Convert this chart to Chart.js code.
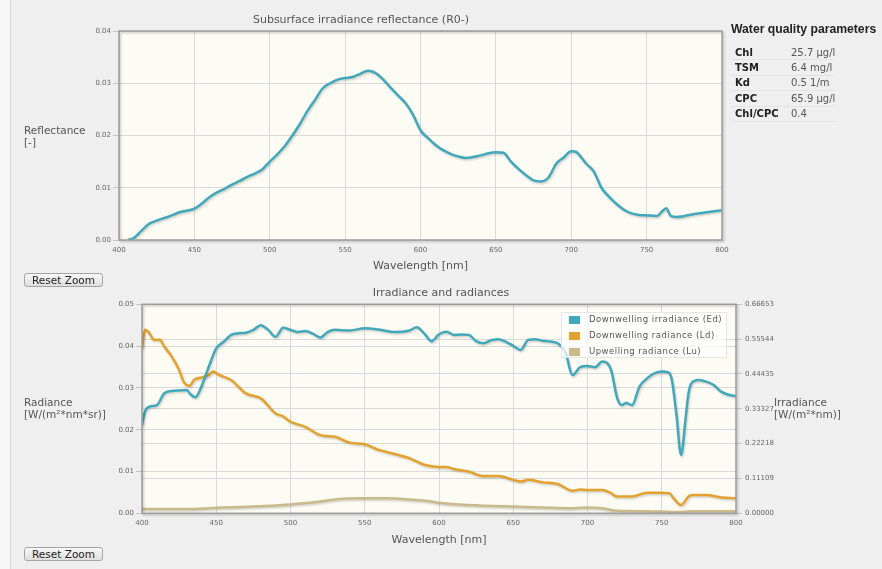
<!DOCTYPE html>
<html>
<head>
<meta charset="utf-8">
<script src="https://cdn.jsdelivr.net/npm/chart.js@4"></script>
<style>
  html, body { margin:0; padding:0; }
  body { width:882px; height:569px; background:#f6f6f6; font-family:'DejaVu Sans', sans-serif; position:relative; overflow:hidden; }
  #page { position:absolute; left:10px; top:0; width:872px; height:569px; background:#efefef; border-left:1px solid #dadada; }
  .abs { position:absolute; }
  .axtitle { position:absolute; font-size:10.5px; line-height:11.5px; color:#555; white-space:nowrap; }
  .btn { position:absolute; left:24px; width:79px; height:14px; box-sizing:border-box; padding:0; margin:0; font-family:'DejaVu Sans', sans-serif; font-size:10.5px; line-height:11px; text-align:center; color:#222;
         background:linear-gradient(#f8f8f8,#dedede); border:1px solid #a4a4a4; border-radius:3px; }
  #wq { position:absolute; left:731px; top:22px; }
  #wq h3 { margin:0; font-family:'Liberation Sans', Arial, sans-serif; font-size:12.2px; font-weight:bold; color:#222; }
  #wq table { border-collapse:collapse; margin-top:9px; }
  #wq td { font-size:10px; height:14.4px; padding:0 0 0 4px; border-bottom:1px solid #e3e3e3; color:#555; white-space:nowrap; }
  #wq td.k { font-weight:bold; color:#222; width:52px; }
  #wq td.v { width:41px; }
  #legend { position:absolute; left:561px; top:312px; width:166px; height:46px; background:rgba(255,255,255,0.72); border:1px solid #e6e6e6; box-sizing:border-box; }
  .li { position:absolute; left:7px; height:12px; font-size:8.5px; color:#555; letter-spacing:0.5px; white-space:nowrap; }
  .li span { position:absolute; left:0; top:2px; width:11px; height:8px; }
  .li b { font-weight:normal; position:absolute; left:20px; top:0; }
</style>
</head>
<body>
<div id="page"></div>

<canvas id="reflChart" class="abs" width="746" height="273" style="left:0;top:0"></canvas>
<canvas id="radChart" class="abs" width="882" height="267" style="left:0;top:280px"></canvas>

<div class="axtitle" style="left:24px;top:125px">Reflectance<br>[-]</div>
<div class="axtitle" style="left:24px;top:397px">Radiance<br>[W/(m²*nm*sr)]</div>
<div class="axtitle" style="left:774px;top:397px">Irradiance<br>[W/(m²*nm)]</div>

<div id="wq"><h3>Water quality parameters</h3><table id="wqTable"></table></div>
<div id="legend"></div>

<button class="btn" style="top:273px">Reset Zoom</button>
<button class="btn" style="top:547px">Reset Zoom</button>

<script>
// --- data ---
const paramNames  = ['Chl', 'TSM', 'Kd', 'CPC', 'Chl/CPC'];
const paramValues = ['25.7 µg/l', '6.4 mg/l', '0.5 1/m', '65.9 µg/l', '0.4'];

// subsurface irradiance reflectance R0- [-]
const reflWl  = [406,410,415,420,425,430,435,440,445,450,455,460,465,470,475,480,485,490,495,500,
                 505,510,515,520,525,530,535,540,545,550,555,560,565,570,575,580,585,590,595,600,
                 605,610,615,620,625,630,640,645,650,655,660,665,670,675,680,685,690,695,700,703,
                 705,710,715,720,725,730,735,740,745,750,757,760,763,766,770,780,790,800];
const reflVal = [0.0000,0.0004,0.0018,0.0031,0.0037,0.0042,0.0047,0.0053,0.0056,0.0060,0.0070,0.0082,0.0091,0.0098,0.0106,0.0113,0.0121,0.0127,0.0135,0.0150,
                 0.0164,0.0180,0.0200,0.0222,0.0247,0.0268,0.0290,0.0300,0.0307,0.0310,0.0312,0.0318,0.0324,0.0320,0.0308,0.0292,0.0277,0.0262,0.0240,0.0210,
                 0.0195,0.0182,0.0172,0.0165,0.0160,0.0157,0.0162,0.0166,0.0168,0.0167,0.0150,0.0136,0.0124,0.0114,0.0112,0.0120,0.0146,0.0158,0.0170,0.0169,
                 0.0164,0.0146,0.0131,0.0100,0.0083,0.0069,0.0058,0.0051,0.0048,0.0047,0.0046,0.0054,0.0061,0.0046,0.0044,0.0049,0.0053,0.0057];

// downwelling irradiance Ed [W/(m2*nm)] (right axis)
const edWl  = [400,402,405,410,415,420,425,430,433,436,440,445,450,455,460,465,470,475,480,485,490,495,500,505,510,515,520,525,530,540,
               550,560,570,580,585,590,595,600,605,610,615,620,625,630,635,640,645,650,655,660,665,670,675,680,685,690,695,700,705,710,
               713,716,720,723,726,730,735,740,745,750,755,757,760,763,766,768,770,775,780,785,790,795,800];
const edVal = [0.282,0.324,0.340,0.345,0.383,0.390,0.392,0.393,0.378,0.370,0.404,0.468,0.526,0.547,0.569,0.574,0.576,0.585,0.600,0.585,0.563,0.592,0.585,0.578,0.581,0.573,0.561,0.578,0.585,0.583,
               0.590,0.585,0.578,0.583,0.593,0.574,0.549,0.571,0.579,0.569,0.570,0.569,0.549,0.542,0.552,0.555,0.547,0.534,0.521,0.553,0.555,0.550,0.548,0.542,0.515,0.441,0.466,0.470,0.466,0.484,
               0.480,0.455,0.367,0.345,0.352,0.345,0.404,0.430,0.446,0.452,0.448,0.420,0.310,0.186,0.300,0.383,0.415,0.425,0.420,0.409,0.388,0.378,0.374];

// downwelling radiance Ld [W/(m2*nm*sr)]
const ldWl  = [400,402,405,408,412,415,420,425,428,432,435,440,445,448,452,460,470,480,490,495,500,510,520,530,540,550,560,570,580,590,
               600,605,610,620,630,640,650,655,660,670,680,690,695,700,710,715,720,730,740,750,755,758,763,768,770,780,790,800];
const ldVal = [0.0395,0.0439,0.0431,0.0415,0.0415,0.0399,0.0375,0.0343,0.0315,0.0305,0.0319,0.0325,0.0331,0.0339,0.0331,0.0319,0.0287,0.0275,0.0239,0.0232,0.0219,0.0207,0.0187,0.0183,0.0169,0.0165,0.0151,0.0142,0.0132,0.0116,
               0.0111,0.0111,0.0106,0.0100,0.0089,0.0089,0.0080,0.0076,0.0080,0.0074,0.0070,0.0054,0.0057,0.0056,0.0056,0.0050,0.0040,0.0040,0.0049,0.0049,0.0048,0.0036,0.0020,0.0040,0.0044,0.0044,0.0038,0.0036];

// upwelling radiance Lu [W/(m2*nm*sr)]
const luWl  = [400,430,450,480,500,520,535,550,565,580,595,600,620,650,670,690,700,710,720,740,760,770,800];
const luVal = [0.0010,0.0010,0.0013,0.0017,0.0021,0.0028,0.0035,0.0036,0.0036,0.0033,0.0028,0.0025,0.0020,0.0016,0.0014,0.0012,0.0014,0.0012,0.0006,0.0005,0.0003,0.0005,0.0005];

const radLabels = ['Downwelling irradiance (Ed)', 'Downwelling radiance (Ld)', 'Upwelling radiance (Lu)'];
const radColors = ['#40a8ba', '#e4a12d', '#c9b98b'];

const rightTicks = [0, 0.11109, 0.22218, 0.33327, 0.44435, 0.55544, 0.66653];

// --- helpers ---
function pts(xs, ys){ return xs.map((x,i)=>({x, y:ys[i]})); }
const tickFont = { family:'DejaVu Sans', size:7 };
const gridCol = '#dadada';

// cream plot background + framed border with a soft shadow
const plotFrame = {
  id:'plotFrame',
  beforeDraw(c){
    const a = c.chartArea, ctx = c.ctx;
    ctx.save(); ctx.fillStyle = '#fdfcf4'; ctx.fillRect(a.left, a.top, a.right-a.left, a.bottom-a.top); ctx.restore();
  },
  afterDraw(c){
    const a = c.chartArea, ctx = c.ctx;
    ctx.save();
    ctx.shadowColor = 'rgba(0,0,0,0.22)'; ctx.shadowOffsetX = 1.5; ctx.shadowOffsetY = 1.5; ctx.shadowBlur = 2;
    ctx.strokeStyle = '#9c9c9c'; ctx.lineWidth = 1.5;
    ctx.strokeRect(a.left, a.top, a.right-a.left, a.bottom-a.top);
    ctx.restore();
  }
};
// line shadow like the original
const lineShadow = {
  id:'lineShadow',
  beforeDatasetDraw(c){ const ctx=c.ctx; ctx.save(); ctx.shadowColor='rgba(0,0,0,0.18)'; ctx.shadowOffsetX=1; ctx.shadowOffsetY=1.5; ctx.shadowBlur=2; },
  afterDatasetDraw(c){ c.ctx.restore(); }
};

function xScale(h){
  return {
    type:'linear', min:400, max:800,
    ticks:{ stepSize:50, font:tickFont, color:'#666', padding:6 },
    grid:{ color:gridCol, drawTicks:false },
    border:{ display:false },
    title:{ display:true, text:'Wavelength [nm]', font:{ family:'DejaVu Sans', size:11 }, color:'#555', padding:0 },
    afterFit(s){ s.height = h; }
  };
}

// --- reflectance chart ---
new Chart(document.getElementById('reflChart'), {
  type:'line',
  data:{ datasets:[{ data:pts(reflWl, reflVal), borderColor:'#40a8ba', borderWidth:2.5, pointRadius:0, cubicInterpolationMode:'monotone' }] },
  options:{
    responsive:false, animation:false, events:[],
    layout:{ padding:{ left:0, right:24, top:0, bottom:0 } },
    plugins:{
      legend:{ display:false }, tooltip:{ enabled:false },
      title:{ display:true, text:'Subsurface irradiance reflectance (R0-)', font:{ family:'DejaVu Sans', size:11, weight:'normal' }, color:'#555', padding:{ top:13.8, bottom:4.0 } }
    },
    scales:{
      x: xScale(33),
      y:{ min:0, max:0.04,
          ticks:{ stepSize:0.01, font:tickFont, color:'#666', padding:2, callback:v=>v.toFixed(2) },
          grid:{ color:gridCol, tickLength:6, tickColor:'#c4c4c4' },
          border:{ display:false },
          afterFit(s){ s.width = 119; } }
    }
  },
  plugins:[plotFrame, lineShadow]
});

// --- irradiance / radiance chart ---
new Chart(document.getElementById('radChart'), {
  type:'line',
  data:{ datasets:[
    { label:radLabels[0], data:pts(edWl, edVal), yAxisID:'y1', borderColor:radColors[0], borderWidth:2.5, pointRadius:0, cubicInterpolationMode:'monotone' },
    { label:radLabels[1], data:pts(ldWl, ldVal), yAxisID:'y',  borderColor:radColors[1], borderWidth:2.5, pointRadius:0, cubicInterpolationMode:'monotone' },
    { label:radLabels[2], data:pts(luWl, luVal), yAxisID:'y',  borderColor:radColors[2], borderWidth:2.5, pointRadius:0, cubicInterpolationMode:'monotone' }
  ]},
  options:{
    responsive:false, animation:false, events:[],
    layout:{ padding:0 },
    plugins:{
      legend:{ display:false }, tooltip:{ enabled:false },
      title:{ display:true, text:'Irradiance and radiances', font:{ family:'DejaVu Sans', size:11, weight:'normal' }, color:'#555', padding:{ top:6.7, bottom:4.4 } }
    },
    scales:{
      x: xScale(33.7),
      y:{ position:'left', min:0, max:0.05,
          ticks:{ stepSize:0.01, font:tickFont, color:'#666', padding:2, callback:v=>v.toFixed(2) },
          grid:{ color:gridCol, tickLength:6, tickColor:'#c4c4c4' },
          border:{ display:false },
          afterFit(s){ s.width = 142; } },
      y1:{ position:'right', min:0, max:rightTicks[rightTicks.length-1],
          afterBuildTicks(s){ s.ticks = rightTicks.map(v=>({ value:v })); },
          ticks:{ font:tickFont, color:'#666', padding:3, callback:v=>v.toFixed(5) },
          grid:{ color:gridCol, tickLength:6, tickColor:'#c4c4c4' },
          border:{ display:false },
          afterFit(s){ s.width = 146; } }
    }
  },
  plugins:[plotFrame, lineShadow]
});

// --- legend + parameter table ---
const legendEl = document.getElementById('legend');
radLabels.forEach((l,i)=>{
  const d = document.createElement('div'); d.className='li'; d.style.top = (1 + i*16) + 'px';
  d.innerHTML = `<span style="background:${radColors[i]}"></span><b>${l}</b>`;
  legendEl.appendChild(d);
});
const tbl = document.getElementById('wqTable');
paramNames.forEach((n,i)=>{
  const tr = document.createElement('tr');
  tr.innerHTML = `<td class="k">${n}</td><td class="v">${paramValues[i]}</td>`;
  tbl.appendChild(tr);
});
</script>
</body>
</html>
